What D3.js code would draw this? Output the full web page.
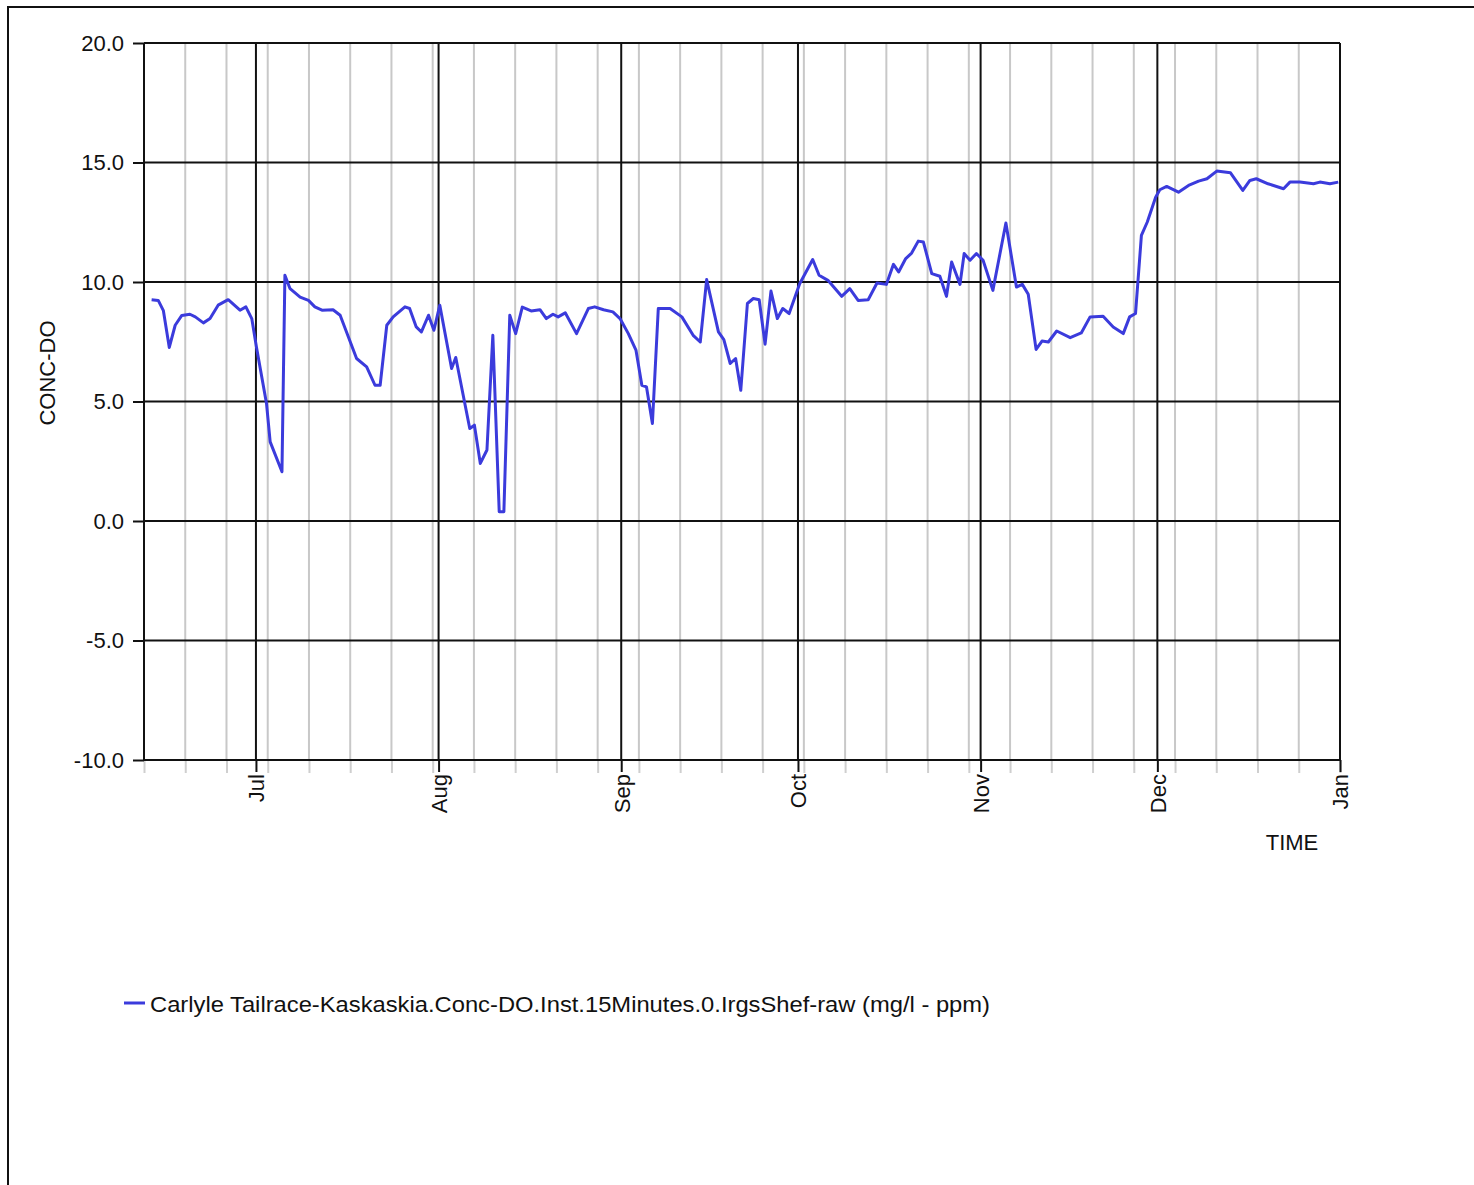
<!DOCTYPE html>
<html>
<head>
<meta charset="utf-8">
<script src="https://cdn.jsdelivr.net/npm/d3@7"></script>
<style>
  html, body { margin: 0; padding: 0; background: #fff; }
  svg { display: block; }
  text { font-family: "Liberation Sans", Arial, Helvetica, sans-serif; fill: #111; }
</style>
</head>
<body>
<svg id="chart" width="1474" height="1185"></svg>
<script>
// ---------------- data ----------------
const times = [
  "2022-06-13 07:00","2022-06-14 10:00","2022-06-15 07:00","2022-06-16 07:00","2022-06-17 07:00",
  "2022-06-18 10:00","2022-06-19 19:00","2022-06-20 17:00","2022-06-22 02:00","2022-06-23 05:00",
  "2022-06-24 14:00","2022-06-26 07:00","2022-06-28 07:00","2022-06-29 07:00","2022-06-30 07:00",
  "2022-07-01 02:00","2022-07-02 19:00","2022-07-03 10:00","2022-07-05 10:00","2022-07-05 22:00",
  "2022-07-06 19:00","2022-07-08 12:00","2022-07-09 22:00","2022-07-11 00:00","2022-07-12 05:00",
  "2022-07-14 02:00","2022-07-15 07:00","2022-07-18 02:00","2022-07-19 19:00","2022-07-21 05:00",
  "2022-07-22 02:00","2022-07-23 05:00","2022-07-24 07:00","2022-07-26 07:00","2022-07-27 02:00",
  "2022-07-28 05:00","2022-07-29 02:00","2022-07-30 07:00","2022-07-31 05:00","2022-08-01 05:00",
  "2022-08-03 05:00","2022-08-03 22:00","2022-08-06 07:00","2022-08-07 02:00","2022-08-08 02:00",
  "2022-08-09 05:00","2022-08-10 05:00","2022-08-11 07:00","2022-08-12 02:00","2022-08-13 02:00",
  "2022-08-14 02:00","2022-08-15 05:00","2022-08-16 17:00","2022-08-18 05:00","2022-08-19 07:00",
  "2022-08-20 10:00","2022-08-21 07:00","2022-08-22 12:00","2022-08-24 10:00","2022-08-26 10:00",
  "2022-08-27 12:00","2022-08-29 00:00","2022-08-30 14:00","2022-08-31 19:00","2022-09-02 05:00",
  "2022-09-03 12:00","2022-09-04 12:00","2022-09-05 07:00","2022-09-06 07:00","2022-09-07 07:00",
  "2022-09-09 07:00","2022-09-11 07:00","2022-09-13 05:00","2022-09-14 10:00","2022-09-15 12:00",
  "2022-09-17 12:00","2022-09-18 10:00","2022-09-19 12:00","2022-09-20 10:00","2022-09-21 07:00",
  "2022-09-22 10:00","2022-09-23 10:00","2022-09-24 10:00","2022-09-25 10:00","2022-09-26 10:00",
  "2022-09-27 12:00","2022-09-28 10:00","2022-09-29 12:00","2022-10-01 07:00","2022-10-03 12:00",
  "2022-10-04 14:00","2022-10-06 02:00","2022-10-08 10:00","2022-10-09 19:00","2022-10-11 05:00",
  "2022-10-12 22:00","2022-10-14 10:00","2022-10-16 00:00","2022-10-17 05:00","2022-10-18 02:00",
  "2022-10-19 07:00","2022-10-20 07:00","2022-10-21 10:00","2022-10-22 07:00","2022-10-23 17:00",
  "2022-10-25 02:00","2022-10-26 05:00","2022-10-27 02:00","2022-10-28 12:00","2022-10-29 05:00",
  "2022-10-30 05:00","2022-10-31 07:00","2022-11-01 10:00","2022-11-03 02:00","2022-11-05 07:00",
  "2022-11-07 02:00","2022-11-08 02:00","2022-11-09 02:00","2022-11-10 10:00","2022-11-11 10:00",
  "2022-11-12 12:00","2022-11-13 22:00","2022-11-16 05:00","2022-11-18 02:00","2022-11-19 14:00",
  "2022-11-21 19:00","2022-11-23 12:00","2022-11-25 05:00","2022-11-26 07:00","2022-11-27 07:00",
  "2022-11-28 07:00","2022-11-29 07:00","2022-11-30 17:00","2022-12-01 10:00","2022-12-02 14:00",
  "2022-12-04 14:00","2022-12-06 07:00","2022-12-08 00:00","2022-12-09 10:00","2022-12-11 02:00",
  "2022-12-13 10:00","2022-12-15 12:00","2022-12-16 17:00","2022-12-17 19:00","2022-12-19 19:00",
  "2022-12-22 10:00","2022-12-23 12:00","2022-12-25 05:00","2022-12-27 12:00","2022-12-28 14:00",
  "2022-12-30 07:00","2022-12-31 17:00"
];
const doValues = [
  9.26, 9.23, 8.80, 7.26, 8.19,
  8.60, 8.65, 8.54, 8.29, 8.47,
  9.03, 9.26, 8.82, 8.96, 8.47,
  7.28, 4.92, 3.31, 2.06, 10.28,
  9.72, 9.37, 9.23, 8.96, 8.82,
  8.84, 8.61, 6.80, 6.45, 5.68,
  5.68, 8.19, 8.54, 8.96, 8.89,
  8.12, 7.91, 8.61, 7.98, 9.03,
  6.38, 6.84, 3.87, 4.01, 2.41,
  2.97, 7.77, 0.39, 0.39, 8.61,
  7.84, 8.95, 8.79, 8.84, 8.47,
  8.65, 8.54, 8.71, 7.84, 8.89,
  8.96, 8.84, 8.75, 8.47, 7.84,
  7.15, 5.68, 5.61, 4.08, 8.89,
  8.89, 8.54, 7.77, 7.49, 10.10,
  7.91, 7.59, 6.59, 6.80, 5.47,
  9.10, 9.31, 9.26, 7.40, 9.62,
  8.47, 8.89, 8.68, 9.93, 10.94,
  10.28, 10.07, 9.40, 9.72, 9.23,
  9.26, 9.96, 9.90, 10.74, 10.42,
  10.98, 11.21, 11.71, 11.67, 10.35,
  10.24, 9.40, 10.84, 9.90, 11.19,
  10.91, 11.19, 10.91, 9.65, 12.47,
  9.79, 9.90, 9.49, 7.18, 7.53,
  7.49, 7.95, 7.67, 7.87, 8.54,
  8.57, 8.12, 7.84, 8.54, 8.68,
  11.95, 12.51, 13.55, 13.86, 14.00,
  13.76, 14.04, 14.22, 14.32, 14.64,
  14.57, 13.83, 14.25, 14.32, 14.11,
  13.90, 14.18, 14.18, 14.11, 14.18,
  14.11, 14.18
];
const timeDomain = ["2022-06-12 00:00", "2023-01-01 00:00"];
const yDomain = [-10, 20];
const yTicks = [-10, -5, 0, 5, 10, 15, 20];
const monthTicks = ["2022-07-01 00:00","2022-08-01 00:00","2022-09-01 00:00","2022-10-01 00:00",
                    "2022-11-01 00:00","2022-12-01 00:00","2023-01-01 00:00"];
const yAxisTitle = "CONC-DO";
const xAxisTitle = "TIME";
const seriesName = "Carlyle Tailrace-Kaskaskia.Conc-DO.Inst.15Minutes.0.IrgsShef-raw (mg/l - ppm)";

// ---------------- chart ----------------
const parse = d3.utcParse("%Y-%m-%d %H:%M");
const data = times.map((t, i) => ({ t: parse(t), v: doValues[i] }));

const svg = d3.select("#chart");
const plot = { left: 144, right: 1340, top: 43, bottom: 760 };

const x = d3.scaleUtc().domain(timeDomain.map(parse)).range([plot.left, plot.right]);
const y = d3.scaleLinear().domain(yDomain).range([plot.bottom, plot.top]);

// outer frame (top and left edges)
svg.append("path")
  .attr("d", "M8,1185 L8,7 L1474,7")
  .attr("fill", "none").attr("stroke", "#111").attr("stroke-width", 2);

// minor weekly gridlines
const weeks = d3.utcSunday.range(x.domain()[0], d3.utcDay.offset(x.domain()[1], 1));
svg.append("g").selectAll("line").data(weeks).join("line")
  .attr("x1", d => x(d)).attr("x2", d => x(d))
  .attr("y1", plot.top).attr("y2", plot.bottom)
  .attr("stroke", "#c8c8c8").attr("stroke-width", 2);

// minor weekly ticks
svg.append("g")
  .attr("transform", `translate(0,${plot.bottom})`)
  .call(d3.axisBottom(x).tickValues(weeks).tickSize(13).tickFormat(""))
  .call(g => g.select(".domain").remove())
  .call(g => g.selectAll("line").attr("stroke", "#cfcfcf").attr("stroke-width", 2));

// major horizontal gridlines
svg.append("g").selectAll("line").data(yTicks).join("line")
  .attr("x1", plot.left).attr("x2", plot.right)
  .attr("y1", d => y(d)).attr("y2", d => y(d))
  .attr("stroke", "#111").attr("stroke-width", 2);

// major vertical (month) gridlines + left edge
const months = monthTicks.map(parse);
svg.append("g").selectAll("line").data([x.domain()[0], ...months]).join("line")
  .attr("x1", d => x(d)).attr("x2", d => x(d))
  .attr("y1", plot.top).attr("y2", plot.bottom)
  .attr("stroke", "#111").attr("stroke-width", 2);

// y axis
svg.append("g")
  .attr("transform", `translate(${plot.left},0)`)
  .call(d3.axisLeft(y).tickValues(yTicks).tickSize(11).tickPadding(9)
          .tickFormat(d => d.toFixed(1)))
  .call(g => g.select(".domain").remove())
  .call(g => g.selectAll("line").attr("stroke", "#111").attr("stroke-width", 2))
  .call(g => g.selectAll("text")
      .attr("font-size", "22px").attr("fill", "#111")
      .style("font-family", "'Liberation Sans', Arial, sans-serif"));

// x axis (months)
svg.append("g")
  .attr("transform", `translate(0,${plot.bottom})`)
  .call(d3.axisBottom(x).tickValues(months).tickSize(12).tickFormat(d3.utcFormat("%b")))
  .call(g => g.select(".domain").remove())
  .call(g => g.selectAll("line").attr("stroke", "#111").attr("stroke-width", 2))
  .call(g => g.selectAll("text")
      .attr("transform", "rotate(-90)")
      .attr("text-anchor", "end")
      .attr("x", -14).attr("y", 0).attr("dy", "0.36em")
      .attr("font-size", "22px").attr("fill", "#111")
      .style("font-family", "'Liberation Sans', Arial, sans-serif"));

// data line
const line = d3.line().x(d => x(d.t)).y(d => y(d.v));
svg.append("path")
  .datum(data)
  .attr("d", line)
  .attr("fill", "none")
  .attr("stroke", "#3b3bdc")
  .attr("stroke-width", 3)
  .attr("stroke-linejoin", "round");

// axis titles
svg.append("text")
  .attr("transform", "translate(55,373) rotate(-90)")
  .attr("text-anchor", "middle")
  .attr("font-size", "22px")
  .text(yAxisTitle);

svg.append("text")
  .attr("x", 1292).attr("y", 850)
  .attr("text-anchor", "middle")
  .attr("font-size", "22px")
  .text(xAxisTitle);

// legend
svg.append("line")
  .attr("x1", 124).attr("x2", 145)
  .attr("y1", 1003).attr("y2", 1003)
  .attr("stroke", "#3b3bdc").attr("stroke-width", 3);
svg.append("text")
  .attr("x", 150).attr("y", 1012)
  .attr("font-size", "22px")
  .attr("textLength", 840)
  .attr("lengthAdjust", "spacingAndGlyphs")
  .text(seriesName);
</script>
</body>
</html>
